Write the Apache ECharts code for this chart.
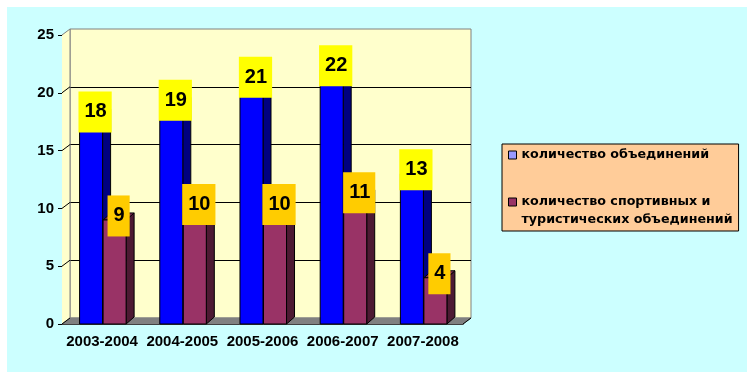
<!DOCTYPE html>
<html>
<head>
<meta charset="utf-8">
<script src="https://cdn.jsdelivr.net/npm/echarts@6/dist/echarts.min.js"></script>
<style>
  html, body { margin: 0; padding: 0; background: #fff; }
  #container { width: 754px; height: 378px; }
</style>
</head>
<body>
<div id="container"></div>
<script>
// данные
var years = ['2003-2004', '2004-2005', '2005-2006', '2006-2007', '2007-2008'];
var allClubs = [18, 19, 21, 22, 13];
var sportClubs = [9, 10, 10, 11, 4];
var seriesNames = ['количество объединений', 'количество спортивных и туристических объединений'];
var yTicks = [0, 5, 10, 15, 20, 25];

var dom = document.getElementById('container');
var myChart = echarts.init(dom);

// front grid (axes) and back wall, shifted by the 3D depth
var front = { left: 62, top: 35, right: 291, bottom: 54 };
var depth = { dx: 8, dy: -6 };
var W = 754, H = 378;
var fx0 = front.left, fx1 = W - front.right, fy0 = front.top, fy1 = H - front.bottom;
var yMax = yTicks[yTicks.length - 1];
var font = '"Liberation Sans", Arial, sans-serif';

// bar faces (3D: front, side, top)
var barDepth = { dx: 8, dy: -7 };
function bar3d(params, api, which, colors) {
    var cat = api.value(0), val = api.value(1);
    var top = api.coord([cat, val]);
    var base = api.coord([cat, 0]);
    var band = api.size([1, 0])[0];
    var w = band * 0.287;
    var x0 = which === 0 ? top[0] - w + 0.5 : top[0] + 1;
    var x1 = x0 + w;
    var y0 = top[1], y1 = base[1];
    var dx = barDepth.dx, dy = barDepth.dy;
    var stroke = { stroke: '#000', lineWidth: 1 };
    return {
        type: 'group',
        children: [
            { type: 'polygon', shape: { points: [[x1, y0], [x1 + dx, y0 + dy], [x1 + dx, y1 + dy], [x1, y1]] },
              style: Object.assign({ fill: colors.side }, stroke) },
            { type: 'polygon', shape: { points: [[x0, y0], [x0 + dx, y0 + dy], [x1 + dx, y0 + dy], [x1, y0]] },
              style: Object.assign({ fill: colors.top }, stroke) },
            { type: 'rect', shape: { x: x0, y: y0, width: w, height: y1 - y0 },
              style: Object.assign({ fill: colors.front }, stroke) }
        ]
    };
}

function labelItem(params, api) {
    var cat = api.value(0), val = api.value(1), which = api.value(2);
    var p = api.coord([cat, val]);
    var band = api.size([1, 0])[0];
    var w = band * 0.287;
    var x0 = which === 0 ? p[0] - w + 0.5 : p[0] + 1;
    return {
        type: 'text',
        x: x0 + (w + barDepth.dx) / 2,
        y: p[1] - 4,
        style: {
            text: String(val),
            font: 'bold 20px ' + font,
            fill: '#000',
            align: 'center',
            verticalAlign: 'middle',
            backgroundColor: which === 0 ? '#FFFF00' : '#FFCC00',
            padding: [10, 5, 10, 6],
            lineHeight: 21
        }
    };
}

var labelData = [];
years.forEach(function (y, i) {
    labelData.push([i, allClubs[i], 0]);
    labelData.push([i, sportClubs[i], 1]);
});

// декор: фон, левая стенка, пол
var graphics = [
    { type: 'rect', z: -10, shape: { x: 7, y: 7, width: 740, height: 365 }, style: { fill: '#CCFFFF' } },
    { type: 'polygon', z: 1, shape: { points: [[fx0, fy0], [fx0 + depth.dx, fy0 + depth.dy], [fx0 + depth.dx, fy1 + depth.dy], [fx0, fy1]] },
      style: { fill: '#FFFFCC' } },
    { type: 'polygon', z: 1, shape: { points: [[fx0, fy1], [fx1, fy1], [fx1 + depth.dx, fy1 + depth.dy], [fx0 + depth.dx, fy1 + depth.dy]] },
      style: { fill: '#808080', stroke: '#808080' } },
    { type: 'line', z: 1, shape: { x1: fx0 + depth.dx, y1: fy0 + depth.dy, x2: fx0 + depth.dx, y2: fy1 + depth.dy },
      style: { stroke: '#808080', lineWidth: 1 } },
    { type: 'line', z: 1, shape: { x1: fx1, y1: fy1, x2: fx1 + depth.dx, y2: fy1 + depth.dy },
      style: { stroke: '#000', lineWidth: 1 } }
];
yTicks.forEach(function (v) {
    var yf = fy1 - (fy1 - fy0) * v / yMax;
    graphics.push({ type: 'line', z: 1, shape: { x1: fx0, y1: yf, x2: fx0 + depth.dx, y2: yf + depth.dy },
        style: { stroke: v === yMax ? '#808080' : '#000', lineWidth: 1 } });
});

var option = {
    backgroundColor: '#fff',
    animation: false,
    graphic: graphics,
    legend: {
        orient: 'vertical',
        left: 502,
        top: 144,
        padding: [2, 6, 2, 6],
        itemGap: 11,
        itemWidth: 8,
        itemHeight: 8,
        icon: 'rect',
        backgroundColor: '#FFCC99',
        borderColor: '#000',
        borderWidth: 1,
        borderRadius: 0,
        textStyle: { fontFamily: '"DejaVu Sans", sans-serif', fontWeight: 'bold', fontSize: 12.7, color: '#000', lineHeight: 18 },
        formatter: function (name) {
            return name === seriesNames[1] ? '\nколичество спортивных и\nтуристических объединений' : name;
        },
        data: [
            { name: seriesNames[0], itemStyle: { color: '#9999FF', borderColor: '#000', borderWidth: 1 } },
            { name: seriesNames[1], itemStyle: { color: '#993366', borderColor: '#000', borderWidth: 1 } }
        ]
    },
    grid: [
        { left: front.left + depth.dx, top: front.top + depth.dy, right: front.right - depth.dx, bottom: front.bottom - depth.dy,
          show: true, backgroundColor: '#FFFFCC', borderColor: '#808080', borderWidth: 1 },
        { left: front.left, top: front.top, right: front.right, bottom: front.bottom }
    ],
    xAxis: [
        { type: 'category', gridIndex: 0, data: years, show: false },
        { type: 'category', gridIndex: 1, data: years,
          axisLine: { lineStyle: { color: '#000', width: 1 } },
          axisTick: { length: 4, lineStyle: { color: '#000' } },
          axisLabel: { interval: 0, margin: 10, color: '#000', fontFamily: font, fontWeight: 'bold', fontSize: 15 } }
    ],
    yAxis: [
        { type: 'value', gridIndex: 0, min: 0, max: yMax, interval: 5,
          axisLine: { show: false }, axisTick: { show: false }, axisLabel: { show: false },
          splitLine: { show: true, showMinLine: false, showMaxLine: false, lineStyle: { color: '#000', width: 1 } } },
        { type: 'value', gridIndex: 1, min: 0, max: yMax, interval: 5,
          axisLine: { show: true, lineStyle: { color: '#000', width: 1 } },
          axisTick: { show: true, length: 4, lineStyle: { color: '#000' } },
          axisLabel: { margin: 8, color: '#000', fontFamily: font, fontWeight: 'bold', fontSize: 15 },
          splitLine: { show: false } }
    ],
    series: [
        { name: seriesNames[0], type: 'custom', xAxisIndex: 1, yAxisIndex: 1, z: 3,
          itemStyle: { color: '#9999FF' },
          data: allClubs.map(function (v, i) { return [i, v]; }),
          renderItem: function (params, api) {
              return bar3d(params, api, 0, { front: '#0000FF', side: '#000080', top: '#0000CC' });
          } },
        { name: seriesNames[1], type: 'custom', xAxisIndex: 1, yAxisIndex: 1, z: 4,
          itemStyle: { color: '#993366' },
          data: sportClubs.map(function (v, i) { return [i, v]; }),
          renderItem: function (params, api) {
              return bar3d(params, api, 1, { front: '#993366', side: '#4D1A33', top: '#7A2952' });
          } },
        { name: 'labels', type: 'custom', xAxisIndex: 1, yAxisIndex: 1, z: 6,
          data: labelData, renderItem: labelItem, silent: true }
    ]
};

myChart.setOption(option);
</script>
</body>
</html>
